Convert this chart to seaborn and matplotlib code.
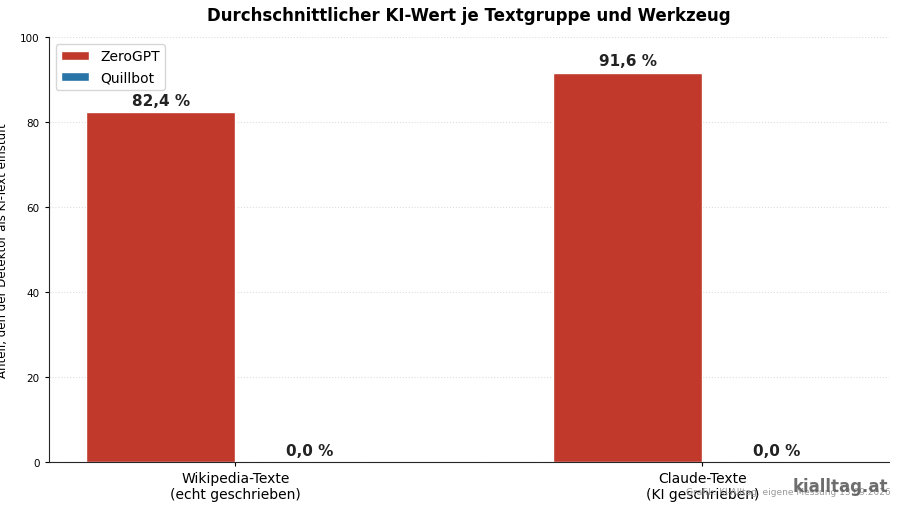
import matplotlib
matplotlib.use("Agg")
import matplotlib.pyplot as plt
import seaborn as sns
import pandas as pd

groups = ["Wikipedia-Texte\n(echt geschrieben)", "Claude-Texte\n(KI geschrieben)"]
tools = ["ZeroGPT", "Quillbot"]
zerogpt = [82.4, 91.6]
quillbot = [0.0, 0.0]

df = pd.DataFrame({
    "Gruppe": groups * 2,
    "Werkzeug": [tools[0]] * 2 + [tools[1]] * 2,
    "Wert": zerogpt + quillbot,
})

sns.set_style("white")
plt.rcParams["text.color"] = "black"
plt.rcParams["axes.labelcolor"] = "black"
plt.rcParams["xtick.color"] = "black"
plt.rcParams["ytick.color"] = "black"
fig, ax = plt.subplots(figsize=(9, 5.06), dpi=100)
fig.subplots_adjust(left=0.054, right=0.988, top=0.925, bottom=0.085)
sns.barplot(data=df, x="Gruppe", y="Wert", hue="Werkzeug",
            palette={"ZeroGPT": "#c0392b", "Quillbot": "#2874a6"},
            width=0.64, ax=ax, saturation=1)
for cont in ax.containers:
    labels = [f"{v:.1f} %".replace(".", ",") for v in cont.datavalues]
    ax.bar_label(cont, labels=labels, padding=3, fontsize=11, fontweight="bold", color="#222222")
ax.set_xlim(-0.40, 1.40)
ax.set_ylim(0, 100)
ax.set_yticks([0, 20, 40, 60, 80, 100])
ax.tick_params(axis="y", labelsize=7.5, length=3, left=True)
ax.tick_params(axis="x", labelsize=10, length=3, bottom=True)
ax.yaxis.grid(True, linestyle=":", color="#dddddd", linewidth=0.8)
ax.set_axisbelow(True)
sns.despine(ax=ax)
ax.set_xlabel("")
ax.set_ylabel("Anteil, den der Detektor als KI-Text einstuft", fontsize=8.5, labelpad=8)
ax.set_title("Durchschnittlicher KI-Wert je Textgruppe und Werkzeug", fontsize=12, fontweight="bold", pad=12, color="black")
ax.legend(title=None, loc="upper left", fontsize=10)
fig.text(0.99, 0.017, "Grafik: KI-Alltag, eigene Messung 13.09.2026", ha="right", va="bottom", fontsize=6.5, color="#999999")
fig.text(0.987, 0.02, "kialltag.at", ha="right", va="bottom", fontsize=12, fontweight="bold", color="#555555", alpha=0.85)
fig.savefig("out.png", dpi=100)
